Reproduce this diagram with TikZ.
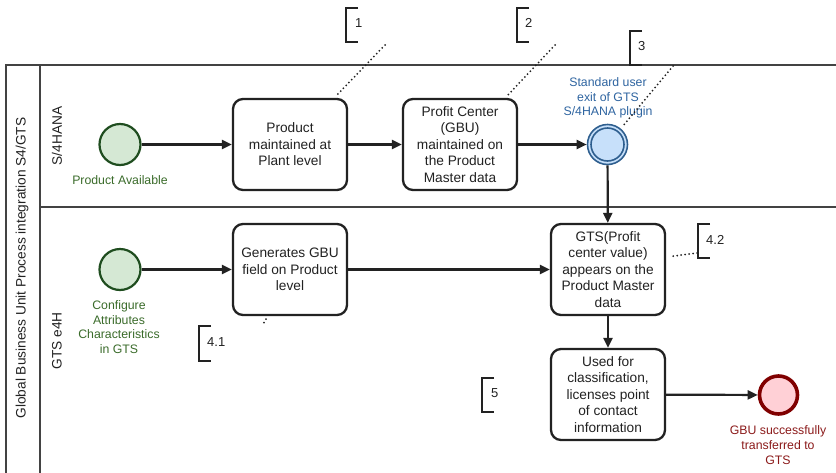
\documentclass[tikz,border=0pt]{standalone}
\usepackage{fontspec}
\setmainfont{Liberation Sans}
\usetikzlibrary{arrows.meta,calc}
\newcommand\taskfnt{\fontsize{13.7}{16.5}\selectfont}
\newcommand\lblfnt{\fontsize{12.3}{14.8}\selectfont}
\newcommand\annfnt{\fontsize{13}{15}\selectfont}
\definecolor{ink}{HTML}{222222}
\definecolor{gfill}{HTML}{D5E8D4}
\definecolor{gline}{HTML}{1F4D1F}
\definecolor{gtext}{HTML}{3A6B2A}
\definecolor{bfill}{HTML}{C7E0FA}
\definecolor{bline}{HTML}{2F5F8F}
\definecolor{btext}{HTML}{2E64A0}
\definecolor{rfill}{HTML}{FFD0D6}
\definecolor{rline}{HTML}{800000}
\definecolor{rtext}{HTML}{8B1A1A}
\tikzset{
  task/.style={draw=ink, line width=2.3pt, rounded corners=10pt, fill=white,
    minimum width=114pt, minimum height=91pt, align=center, inner sep=2pt, font=\taskfnt, text=ink},
  startev/.style={circle, draw=gline, fill=gfill, line width=2.2pt, minimum size=41pt, inner sep=0pt},
  endev/.style={circle, draw=rline, fill=rfill, line width=3.6pt, minimum size=38pt, inner sep=0pt},
  midev/.style={circle, draw=bline, fill=bfill, line width=1.6pt, minimum size=40pt, inner sep=0pt},
  midin/.style={circle, draw=bline, line width=1.6pt, minimum size=33pt, inner sep=0pt},
  lbl/.style={align=center, font=\lblfnt, inner sep=0pt},
  flow/.style={draw=ink, line width=2.2pt, -{Triangle[length=10pt,width=9pt]}},
  assoc/.style={draw=ink, line width=2pt, dash pattern=on 0pt off 4pt, line cap=round},
  brk/.style={draw=ink, line width=2.2pt},
  anntext/.style={anchor=west, font=\annfnt, text=ink, inner sep=0pt},
  pool/.style={draw=ink!85, line width=1.8pt},
  lanelbl/.style={rotate=90, font=\taskfnt, text=ink, inner sep=0pt}
}
\begin{document}
\begin{tikzpicture}[x=1pt,y=-1pt]
\useasboundingbox (0,0) rectangle (836,472);
\clip (0,0) rectangle (836,472);
% pool and lanes
\draw[pool] (6,65) rectangle (860,480);
\draw[pool] (40,65) -- (40,480);
\draw[pool] (40,207) -- (860,207);
\node[lanelbl] (pooltitle) at (22,268) {Global Business Unit Process integration S4/GTS};
\node[lanelbl] (lane1) at (57,136) {S/4HANA};
\node[lanelbl] (lane2) at (57,341) {GTS e4H};
% lane 1
\node[startev] (s1) at (120,144.5) {};
\node[lbl, text=gtext] (s1l) at (120,180) {Product Available};
\node[task] (t1) at (290,144.5) {Product\\maintained at\\Plant level};
\node[task] (t2) at (460,144.5) {Profit Center\\(GBU)\\maintained on\\the Product\\Master data};
\node[midev] (m1) at (607.5,144.5) {};
\node[midin] (m1i) at (607.5,144.5) {};
\node[lbl, text=btext] (m1l) at (608,98) {Standard user\\exit of GTS\\S/4HANA plugin};
% lane 2
\node[startev] (s2) at (120,269.5) {};
\node[lbl, text=gtext] (s2l) at (119,327) {Configure\\Attributes\\Characteristics\\in GTS};
\node[task] (t5) at (290,269.5) {Generates GBU\\field on Product\\level};
\node[task] (t3) at (608,269.5) {GTS(Profit\\center value)\\appears on the\\Product Master\\data};
\node[task] (t4) at (608,394.5) {Used for\\classification,\\licenses point\\of contact\\information};
\node[endev] (e1) at (778.5,395) {};
\node[lbl, text=rtext] (e1l) at (778,445) {GBU successfully\\transferred to\\GTS};
% flows
\draw[flow] (s1) -- (t1);
\draw[flow] (t1) -- (t2);
\draw[flow] (t2) -- (m1);
\draw[flow] (m1) -- (t3);
\draw[flow] (s2) -- (t5);
\draw[flow] (t5) -- (t3);
\draw[flow] (t3) -- (t4);
\draw[flow] (t4) -- (e1);
% annotations
\draw[brk] (358,8) -- (346,8) -- (346,42) -- (358,42);
\node[anntext] (a1) at (355,23) {1};
\draw[brk] (529,8) -- (517,8) -- (517,42) -- (529,42);
\node[anntext] (a2) at (525,23) {2};
\draw[brk] (642,31) -- (630,31) -- (630,65) -- (642,65);
\node[anntext] (a3) at (638,46) {3};
\draw[brk] (211,326) -- (199,326) -- (199,361) -- (211,361);
\node[anntext] (a41) at (207,342) {4.1};
\draw[brk] (710,224) -- (698,224) -- (698,258) -- (710,258);
\node[anntext] (a42) at (706,240) {4.2};
\draw[brk] (494,378) -- (482,378) -- (482,412) -- (494,412);
\node[anntext] (a5) at (491,393) {5};
% associations
\coordinate (c1) at (385,45);
\coordinate (c2) at (555,45);
\coordinate (c3) at (673,66);
\coordinate (c41) at (262,326);
\coordinate (c42) at (697,253);
\draw[assoc] (c1) -- ($(t1.north east)+(-12,-2)$);
\draw[assoc] (c2) -- ($(t2.north east)+(-11,-2)$);
\draw[assoc] (c3) -- ($(m1.center)+(15,-18)$);
\draw[assoc] ($(t5.south)+(-24,3)$) -- (c41);
\draw[assoc] (c42) -- ($(t3.east)+(4,-13)$);
\end{tikzpicture}
\end{document}
